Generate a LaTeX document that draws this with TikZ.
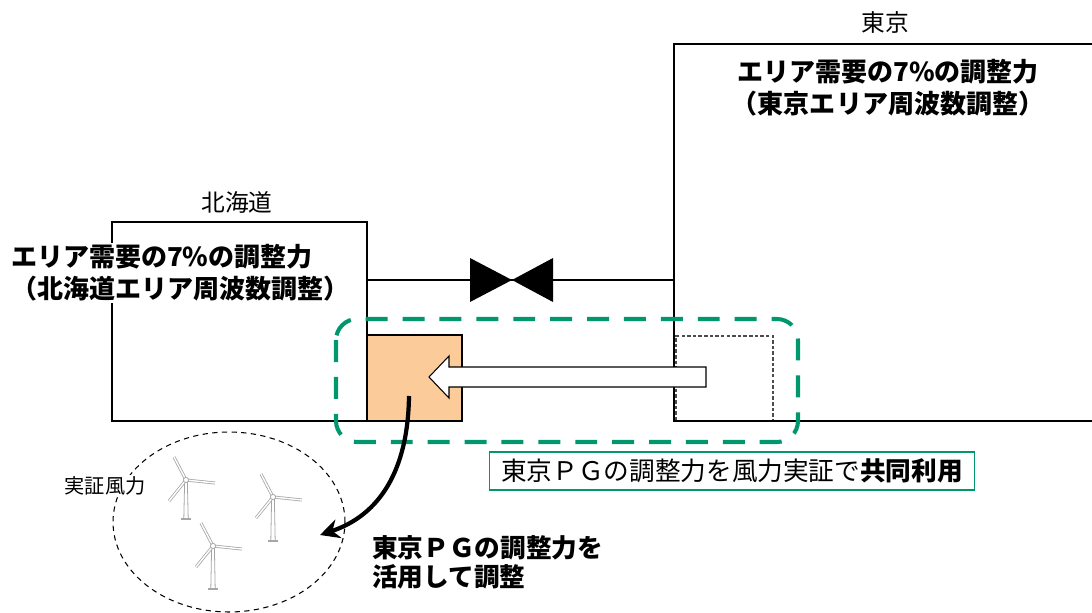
\documentclass[tikz,border=0pt]{standalone}
\usepackage{fontspec}
\setmainfont{Noto Sans CJK JP}
\usetikzlibrary{arrows.meta, shapes.geometric, positioning}
\definecolor{pggreen}{RGB}{0,150,110}
\definecolor{resorange}{RGB}{251,203,154}
\tikzset{
  >=Stealth,
  area/.style={draw, line width=1.2pt},
  areatitle/.style={font=\fontsize{13.5}{16}\selectfont},
  areatext/.style={font=\fontsize{14.8}{18}\selectfont\bfseries, align=center},
  resbox/.style={draw, line width=1.2pt, fill=resorange, minimum width=1.9cm, minimum height=1.72cm, inner sep=0pt},
  sparebox/.style={draw=black!70, line width=0.6pt, dash pattern=on 2pt off 1.2pt, minimum width=1.94cm, minimum height=1.7cm, inner sep=0pt},
  shared/.style={draw=pggreen, line width=2.3pt, dash pattern=on 12.5pt off 8.5pt, rounded corners=12pt},
  sharenote/.style={draw=pggreen, line width=0.9pt, fill=white, minimum width=9.7cm, minimum height=0.76cm, font=\fontsize{14.6}{16}\selectfont},
  hollowarrow/.style={draw, fill=white, line width=0.6pt, line join=miter},
  farm/.style={draw, ellipse, line width=0.6pt, dash pattern=on 3pt off 2.5pt, minimum width=4.64cm, minimum height=3.6cm},
  blade/.style={draw=gray!70, double=white, double distance=0.8pt, line width=0.45pt},
  towerpart/.style={draw=gray!70, fill=white, line width=0.45pt},
  bigarrow/.style={line width=2.4pt, arrows={-Stealth[length=11pt, width=11pt]}}
}
% one wind turbine: hub x, hub y, tower height
\newcommand{\turbine}[3]{%
  \begin{scope}[shift={(#1,#2)}]
    \path[towerpart] (-1.4,2) -- (-2.2,#3) -- (2.2,#3) -- (1.4,2) -- cycle;
    \draw[gray!70, line width=0.7pt] (-5,#3) -- (5,#3);
    \draw[blade] (0,0) -- (-12,-23);
    \draw[blade] (0,0) -- (29,3);
    \draw[blade] (0,0) -- (-17,21);
    \path[towerpart] (0,0) circle[radius=2.6];
  \end{scope}}

\begin{document}
\begin{tikzpicture}[x=0.02cm, y=-0.02cm]
  \useasboundingbox (0,0) rectangle (1092,612);

  % spare capacity inside Tokyo
  \node[sparebox] (spare) at (724.5,378.5) {};

  % the two areas
  \draw[area] (1100,44) -- (674,44) -- (674,421) -- (1100,421);
  \draw[area] (112,222) rectangle (367,421);
  \node[areatitle] (tkylabel) at (885,22) {東京};
  \node[areatitle] (hkdlabel) at (237,202) {北海道};
  \node[areatext] (tkytext) at (888,88) {エリア需要の7\%の調整力\\（東京エリア周波数調整）};
  \node[areatext, align=left, anchor=west, fill=white, inner sep=1pt] (hkdtext) at (9,273) {エリア需要の7\%の調整力\\（北海道エリア周波数調整）};

  % tie line and valve
  \coordinate (tie1) at (367,280);
  \coordinate (tie2) at (674,280);
  \draw[line width=1.2pt] (tie1) -- (tie2);
  \fill (470,258) -- (470,302) -- (512,280) -- cycle;
  \fill (553,258) -- (553,302) -- (512,280) -- cycle;

  % reserve used for the wind test
  \node[resbox] (res) at (414.5,378) {};
  \draw[hollowarrow] (706,367) -- (449,367) -- (449,356) -- (429,377)
    -- (449,398) -- (449,387) -- (706,387) -- cycle;
  \draw[shared] (336,319) rectangle (798,442);
  \node[sharenote] (note) at (732,471) {東京ＰＧの調整力を風力実証で\textbf{共同利用}};

  % wind farm
  \node[farm] (farm) at (229,522) {};
  \node[fill=white, inner sep=1pt, font=\fontsize{11.5}{13}\selectfont] (farmlabel) at (105,486) {実証風力};
  \turbine{186}{480}{39}
  \turbine{273}{497}{44}
  \turbine{213}{546}{43}

  \coordinate (src) at (409,396);
  \coordinate (tip) at (320,535);
  \draw[bigarrow] (src) .. controls (408,470) and (380,515) .. (tip);
  \node[anchor=west, align=left, font=\fontsize{14.6}{16.5}\selectfont\bfseries] (usetext) at (366,562) {東京ＰＧの調整力を\\活用して調整};
\end{tikzpicture}
\end{document}
